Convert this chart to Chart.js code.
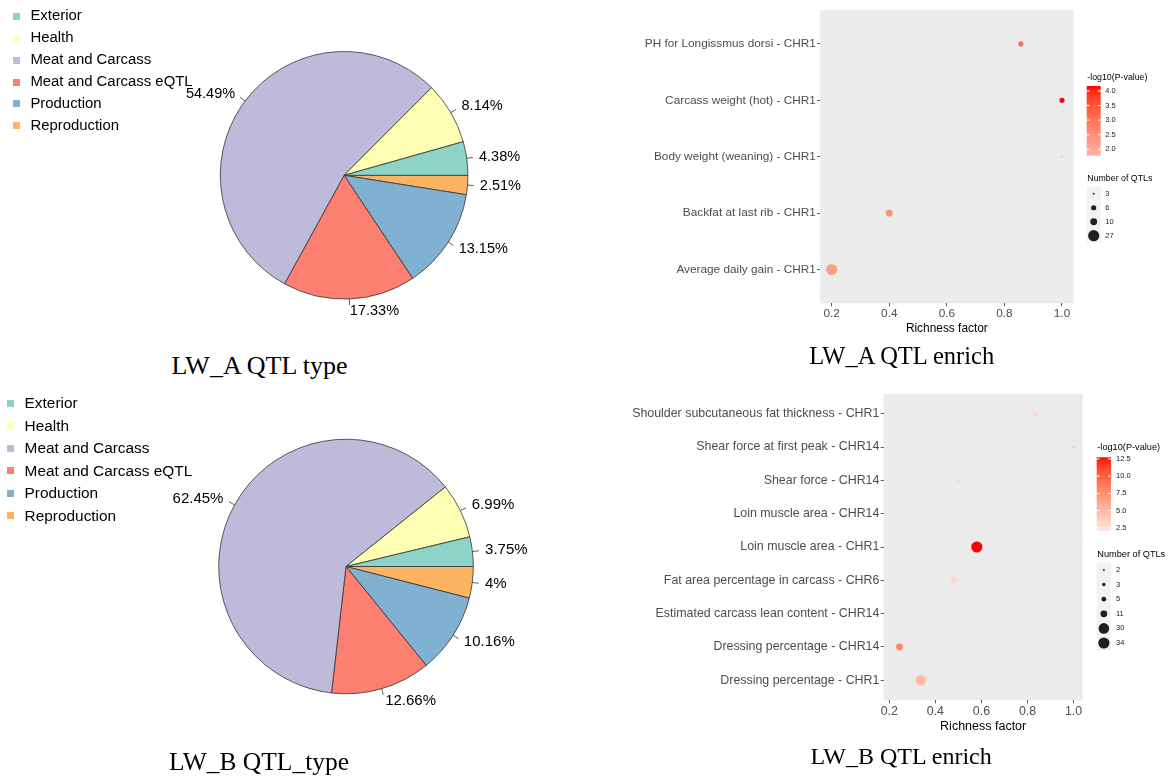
<!DOCTYPE html>
<html>
<head>
<meta charset="utf-8">
<script src="https://cdn.jsdelivr.net/npm/chart.js@4.4.1/dist/chart.umd.min.js"></script>
<style>
  html, body { margin: 0; padding: 0; background: #fff; }
  body { width: 1169px; height: 776px; position: relative; overflow: hidden;
         font-family: "Liberation Sans", Arial, sans-serif; }
  canvas { position: absolute; }
  .cap { position: absolute; font-family: "Liberation Serif", "Times New Roman", serif;
         color: #000; white-space: nowrap; line-height: 1; transform: translateX(-50%); }
</style>
</head>
<body>
<canvas id="pieA" width="560" height="345" style="left:0;top:0"></canvas>
<canvas id="enrichA" width="569" height="345" style="left:600px;top:0"></canvas>
<canvas id="pieB" width="560" height="391" style="left:0;top:385px"></canvas>
<canvas id="enrichB" width="569" height="391" style="left:600px;top:385px"></canvas>

<div class="cap" style="left:259.5px;top:353.2px;font-size:26px">LW_A QTL type</div>
<div class="cap" style="left:901.7px;top:343.8px;font-size:24.5px">LW_A QTL enrich</div>
<div class="cap" style="left:259px;top:748.6px;font-size:25.5px">LW_B QTL_type</div>
<div class="cap" style="left:901.1px;top:743.9px;font-size:24px">LW_B QTL enrich</div>

<script>
// QTL type shares (%)
var types = ["Exterior", "Health", "Meat and Carcass", "Meat and Carcass eQTL", "Production", "Reproduction"];
var typeColors = ["#8DD3C7", "#FFFFB3", "#BEBADA", "#FB8072", "#80B1D3", "#FDB462"];
var shareA = [4.38, 8.14, 54.49, 17.33, 13.15, 2.51];
var shareB = [3.75, 6.99, 62.45, 12.66, 10.16, 4];

// enrichment, LW_A (top row first)
var traitsA = ["PH for Longissmus dorsi - CHR1", "Carcass weight (hot) - CHR1",
               "Body weight (weaning) - CHR1", "Backfat at last rib - CHR1",
               "Average daily gain - CHR1"];
var richA = [0.857, 1.0, 1.0, 0.4, 0.2];
var logpA = [3.1, 4.17, 1.78, 2.5, 2.2];
var countA = [6, 6, 3, 10, 27];
var countBreaksA = [3, 6, 10, 27];
var logpBreaksA = [2.0, 2.5, 3.0, 3.5, 4.0];

// enrichment, LW_B (top row first)
var traitsB = ["Shoulder subcutaneous fat thickness - CHR1", "Shear force at first peak - CHR14",
               "Shear force - CHR14", "Loin muscle area - CHR14", "Loin muscle area - CHR1",
               "Fat area percentage in carcass - CHR6", "Estimated carcass lean content - CHR14",
               "Dressing percentage - CHR14", "Dressing percentage - CHR1"];
var richB = [0.833, 1.0, 0.5, 0.215, 0.58, 0.48, 1.0, 0.244, 0.337];
var logpB = [3.0, 3.5, 3.0, 2.06, 12.75, 3.0, 2.3, 8.0, 4.8];
var countB = [5, 3, 3, 2, 34, 11, 2, 11, 30];
var countBreaksB = [2, 3, 5, 11, 30, 34];
var logpBreaksB = [2.5, 5.0, 7.5, 10.0, 12.5];

var richTicks = [0.2, 0.4, 0.6, 0.8, 1.0];

var SANS = '"Liberation Sans", Arial, sans-serif';
Chart.defaults.font.family = SANS;

// ---- colour ramp in CIELAB ----
function hexToRgb(h) {
    return [parseInt(h.slice(1, 3), 16), parseInt(h.slice(3, 5), 16), parseInt(h.slice(5, 7), 16)];
}
function toLin(c) { c /= 255; return c <= 0.04045 ? c / 12.92 : Math.pow((c + 0.055) / 1.055, 2.4); }
function fromLin(c) {
    c = c <= 0.0031308 ? 12.92 * c : 1.055 * Math.pow(c, 1 / 2.4) - 0.055;
    return Math.round(Math.max(0, Math.min(1, c)) * 255);
}
function rgbToLab(rgb) {
    var r = toLin(rgb[0]), g = toLin(rgb[1]), b = toLin(rgb[2]);
    var x = (0.4124 * r + 0.3576 * g + 0.1805 * b) / 0.95047;
    var y = 0.2126 * r + 0.7152 * g + 0.0722 * b;
    var z = (0.0193 * r + 0.1192 * g + 0.9505 * b) / 1.08883;
    function f(t) { return t > 0.008856 ? Math.cbrt(t) : 7.787 * t + 16 / 116; }
    var fx = f(x), fy = f(y), fz = f(z);
    return [116 * fy - 16, 500 * (fx - fy), 200 * (fy - fz)];
}
function labToRgb(lab) {
    var fy = (lab[0] + 16) / 116, fx = fy + lab[1] / 500, fz = fy - lab[2] / 200;
    function fi(t) { var t3 = t * t * t; return t3 > 0.008856 ? t3 : (t - 16 / 116) / 7.787; }
    var x = fi(fx) * 0.95047, y = fi(fy), z = fi(fz) * 1.08883;
    var r = 3.2406 * x - 1.5372 * y - 0.4986 * z;
    var g = -0.9689 * x + 1.8758 * y + 0.0415 * z;
    var b = 0.0557 * x - 0.2040 * y + 1.0570 * z;
    return "rgb(" + fromLin(r) + "," + fromLin(g) + "," + fromLin(b) + ")";
}
function ramp(low, high) {
    var a = rgbToLab(hexToRgb(low)), b = rgbToLab(hexToRgb(high));
    return function (t) {
        t = Math.max(0, Math.min(1, t));
        return labToRgb([a[0] + (b[0] - a[0]) * t, a[1] + (b[1] - a[1]) * t, a[2] + (b[2] - a[2]) * t]);
    };
}

// ---- pie charts ----
function typeKey(x0, y0, gap, sq, textX, fontSize) {
    types.forEach(function (t, i) {
        var cy = y0 + gap * i;
        var m = document.createElement("div");
        m.style.cssText = "position:absolute;left:" + x0 + "px;top:" + (cy - sq / 2) + "px;width:" + sq +
            "px;height:" + sq + "px;background:" + typeColors[i];
        var l = document.createElement("div");
        l.textContent = t;
        l.style.cssText = "position:absolute;left:" + textX + "px;top:" + (cy - fontSize * 0.6) +
            "px;font-size:" + fontSize + "px;line-height:" + (fontSize * 1.2) + "px;white-space:nowrap;color:#000";
        document.body.appendChild(m);
        document.body.appendChild(l);
    });
}

function pieChart(id, shares, g) {
    var canvas = document.getElementById(id);
    // slices run counter-clockwise from 3 o'clock, so feed them reversed
    var order = types.map(function (t, i) { return i; }).reverse();
    var half = g.r + 0.4;

    var labels = {
        id: "pieLabels",
        afterDatasetsDraw: function (chart) {
            var ctx = chart.ctx;
            var meta = chart.getDatasetMeta(0);
            var vals = chart.data.datasets[0].data;
            ctx.save();
            ctx.font = g.font + "px " + SANS;
            ctx.fillStyle = "#000";
            ctx.strokeStyle = "#333";
            ctx.lineWidth = 0.8;
            ctx.textBaseline = "middle";
            meta.data.forEach(function (arc, i) {
                var p = arc.getProps(["x", "y", "startAngle", "endAngle", "outerRadius"], true);
                var mid = (p.startAngle + p.endAngle) / 2;
                var c = Math.cos(mid), s = Math.sin(mid), r = p.outerRadius;
                ctx.beginPath();
                ctx.moveTo(p.x + c * r, p.y + s * r);
                ctx.lineTo(p.x + c * r * 1.05, p.y + s * r * 1.05);
                ctx.stroke();
                ctx.textAlign = c < 0 ? "right" : "left";
                ctx.fillText(vals[i] + "%", p.x + c * r * 1.1, p.y + s * r * 1.1);
            });
            ctx.restore();
        }
    };

    return new Chart(canvas, {
        type: "pie",
        data: {
            labels: order.map(function (i) { return types[i]; }),
            datasets: [{
                data: order.map(function (i) { return shares[i]; }),
                backgroundColor: order.map(function (i) { return typeColors[i]; }),
                borderColor: "#333",
                borderWidth: 0.8
            }]
        },
        options: {
            responsive: false,
            animation: false,
            events: [],
            rotation: 90,
            layout: {
                padding: {
                    left: g.cx - half, right: canvas.width - g.cx - half,
                    top: g.cy - half, bottom: canvas.height - g.cy - half
                }
            },
            plugins: { legend: { display: false }, tooltip: { enabled: false } }
        },
        plugins: [labels]
    });
}

// ---- enrichment bubble charts ----
function enrichChart(id, traits, rich, logp, counts, pBreaks, nBreaks, o) {
    var pMin = Math.min.apply(null, logp), pMax = Math.max.apply(null, logp);
    var nMin = Math.min.apply(null, counts), nMax = Math.max.apply(null, counts);
    var rMin = Math.min.apply(null, rich), rMax = Math.max.apply(null, rich);
    var colour = ramp(o.low, "#FF0000");
    function fill(p) { return colour((p - pMin) / (pMax - pMin)); }
    function radius(n) { return 0.93 * (1 + 5 * Math.sqrt((n - nMin) / (nMax - nMin))); }

    var panel = {
        id: "panel",
        beforeDraw: function (chart) {
            var a = chart.chartArea, ctx = chart.ctx;
            ctx.save();
            ctx.fillStyle = "#EBEBEB";
            ctx.fillRect(a.left, a.top, a.right - a.left, a.bottom - a.top);
            ctx.restore();
        }
    };

    var key = {
        id: "enrichKey",
        afterDraw: function (chart) {
            var ctx = chart.ctx;
            ctx.save();
            ctx.textBaseline = "middle";
            ctx.textAlign = "left";
            ctx.fillStyle = "#000";
            ctx.font = o.titleSize + "px " + SANS;
            ctx.fillText("-log10(P-value)", o.keyX + 0.6, o.pTitleY);

            var grad = ctx.createLinearGradient(0, o.barY + o.barH, 0, o.barY);
            for (var k = 0; k <= 20; k++) grad.addColorStop(k / 20, colour(k / 20));
            ctx.fillStyle = grad;
            ctx.fillRect(o.keyX, o.barY, o.keyW, o.barH);

            ctx.font = o.tickSize + "px " + SANS;
            pBreaks.forEach(function (b) {
                var y = o.barY + o.barH * (pMax - b) / (pMax - pMin);
                ctx.strokeStyle = "#fff";
                ctx.lineWidth = 1;
                ctx.beginPath();
                ctx.moveTo(o.keyX, y); ctx.lineTo(o.keyX + o.keyW / 5, y);
                ctx.moveTo(o.keyX + o.keyW, y); ctx.lineTo(o.keyX + o.keyW * 4 / 5, y);
                ctx.stroke();
                ctx.fillStyle = "#222";
                ctx.fillText(b.toFixed(1), o.labX, y);
            });

            ctx.fillStyle = "#000";
            ctx.font = o.titleSize + "px " + SANS;
            ctx.fillText("Number of QTLs", o.keyX + 0.6, o.nTitleY);
            ctx.fillStyle = "#F2F2F2";
            ctx.fillRect(o.keyX, o.sizeY, o.keyW, o.sizeH * nBreaks.length);
            ctx.font = o.tickSize + "px " + SANS;
            nBreaks.forEach(function (n, i) {
                var y = o.sizeY + o.sizeH * (i + 0.5);
                ctx.fillStyle = "#1F1F1F";
                ctx.beginPath();
                ctx.arc(o.keyX + o.keyW / 2, y, radius(n), 0, Math.PI * 2);
                ctx.fill();
                ctx.fillStyle = "#222";
                ctx.fillText(String(n), o.labX, y);
            });
            ctx.restore();
        }
    };

    var tickFont = { family: SANS, size: o.axisSize };
    var grid = { drawOnChartArea: false, drawTicks: true, tickLength: 3, tickColor: "#333", tickWidth: 0.8 };

    return new Chart(document.getElementById(id), {
        type: "bubble",
        data: {
            datasets: [{
                data: traits.map(function (t, i) { return { x: rich[i], y: i }; }),
                backgroundColor: function (c) { return fill(logp[c.dataIndex]); },
                radius: function (c) { return radius(counts[c.dataIndex]); },
                borderWidth: 0
            }]
        },
        options: {
            responsive: false,
            animation: false,
            events: [],
            layout: { padding: o.pad },
            plugins: { legend: { display: false }, tooltip: { enabled: false } },
            scales: {
                x: {
                    type: "linear",
                    min: rMin - 0.05 * (rMax - rMin),
                    max: rMax + 0.05 * (rMax - rMin),
                    afterBuildTicks: function (s) { s.ticks = richTicks.map(function (v) { return { value: v }; }); },
                    afterFit: function (s) { s.height = o.xAxisH; },
                    grid: grid,
                    border: { display: false },
                    ticks: {
                        padding: o.xPad, color: "#4D4D4D", font: tickFont, maxRotation: 0, autoSkip: false,
                        callback: function (v) { return v.toFixed(1); }
                    },
                    title: {
                        display: true, text: "Richness factor", color: "#000",
                        font: { family: SANS, size: o.titleAxisSize }, padding: 0
                    }
                },
                y: {
                    type: "linear",
                    min: -0.6,
                    max: traits.length - 0.4,
                    reverse: true,
                    afterBuildTicks: function (s) { s.ticks = traits.map(function (t, i) { return { value: i }; }); },
                    afterFit: function (s) { s.width = o.yAxisW; },
                    grid: grid,
                    border: { display: false },
                    ticks: {
                        padding: o.yPad, color: "#4D4D4D", font: tickFont, autoSkip: false,
                        callback: function (v) { return traits[v]; }
                    }
                }
            }
        },
        plugins: [panel, key]
    });
}

typeKey(13, 16.3, 21.9, 7, 30.4, 14.9);
typeKey(7.1, 403.3, 22.5, 7.2, 24.6, 15.4);

pieChart("pieA", shareA, { cx: 344.1, cy: 175.3, r: 123.8, font: 14.5 });
pieChart("pieB", shareB, { cx: 346, cy: 181.5, r: 127.3, font: 15 });

enrichChart("enrichA", traitsA, richA, logpA, countA, logpBreaksA, countBreaksA, {
    low: "#FCB4A6",
    pad: { left: 0, right: 95.5, top: 10, bottom: 9.56 },
    yAxisW: 220.2, xAxisH: 32.1, xPad: 0.7, yPad: 1.3,
    axisSize: 11.8, titleAxisSize: 11.9,
    titleSize: 8.8, tickSize: 7.5,
    keyX: 486.7, keyW: 14, pTitleY: 77.3, barY: 86, barH: 69.7, labX: 505.3,
    nTitleY: 178.5, sizeY: 186.7, sizeH: 14
});

enrichChart("enrichB", traitsB, richB, logpB, countB, logpBreaksB, countBreaksB, {
    low: "#FEE6DF",
    pad: { left: 0, right: 86.4, top: 7.3, bottom: 41.8 },
    yAxisW: 283.7, xAxisH: 33.9, xPad: 1, yPad: 1.3,
    axisSize: 12.4, titleAxisSize: 12.5,
    titleSize: 9.2, tickSize: 7.5,
    keyX: 496.7, keyW: 14.3, pTitleY: 62.3, barY: 72.3, barH: 73.4, labX: 516,
    nTitleY: 169.7, sizeY: 177.7, sizeH: 14.6
});
</script>
</body>
</html>
